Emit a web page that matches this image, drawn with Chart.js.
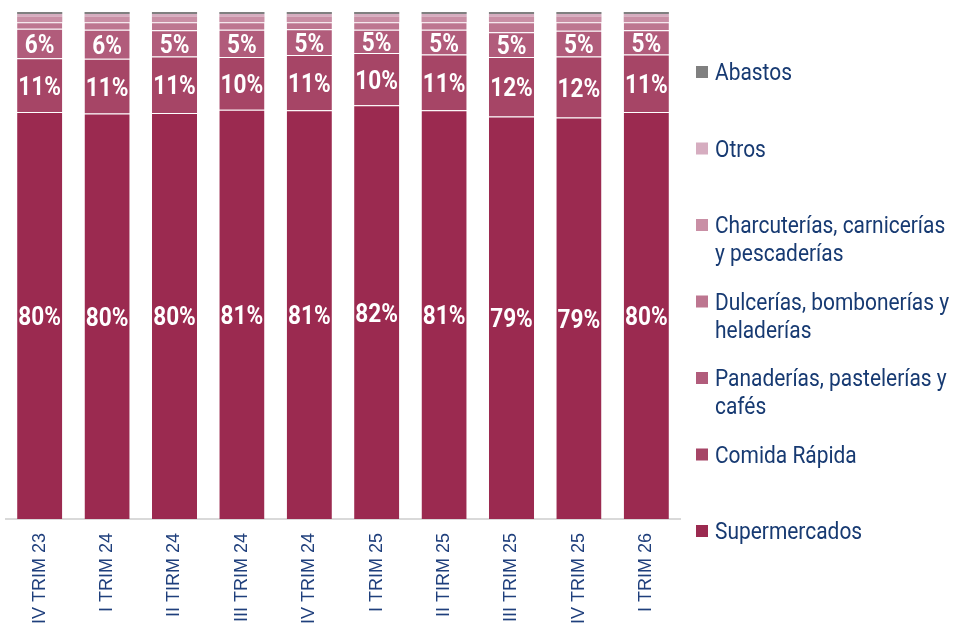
<!DOCTYPE html>
<html>
<head>
<meta charset="utf-8">
<script src="https://cdn.jsdelivr.net/npm/chart.js@4.4.1/dist/chart.umd.min.js"></script>
<style>
  html, body { margin: 0; padding: 0; background: #fff; overflow: hidden; }
  #wrap { width: 955px; height: 623px; }
</style>
</head>
<body>
<div id="wrap"><canvas id="chart" width="955" height="623"></canvas></div>
<script>
// Data (share of sales, %)
const quarters = ['IV TRIM 23', 'I TRIM 24', 'II TIRM 24', 'III TRIM 24', 'IV TRIM 24',
                  'I TRIM 25', 'II TIRM 25', 'III TRIM 25', 'IV TRIM 25', 'I TRIM 26'];

const supermercados = [80.3, 80.0, 80.1, 80.7, 80.6, 81.6, 80.6, 79.4, 79.2, 80.3];
const comidaRapida  = [10.6, 10.8, 11.1, 10.4, 10.9, 10.3, 11.0, 11.7, 12.0, 11.3];
const panaderias    = [5.8, 5.7, 5.2, 5.4, 5.1, 4.6, 4.9, 4.9, 5.1, 4.8];
const dulcerias     = [1.3, 1.5, 1.6, 1.5, 1.4, 1.5, 1.5, 2.0, 1.7, 1.6];
const charcuterias  = [1.1, 1.1, 1.1, 1.1, 1.1, 1.1, 1.1, 1.1, 1.1, 1.1];
const otros         = [0.5, 0.5, 0.5, 0.5, 0.5, 0.5, 0.5, 0.5, 0.5, 0.5];
const abastos       = [0.4, 0.4, 0.4, 0.4, 0.4, 0.4, 0.4, 0.4, 0.4, 0.4];

const seriesNames = ['Supermercados', 'Comida Rápida', 'Panaderías, pastelerías y cafés',
                     'Dulcerías, bombonerías y heladerías', 'Charcuterías, carnicerías y pescaderías',
                     'Otros', 'Abastos'];
// how the legend wraps each name
const legendLines = [
  ['Supermercados'],
  ['Comida Rápida'],
  ['Panaderías, pastelerías y', 'cafés'],
  ['Dulcerías, bombonerías y', 'heladerías'],
  ['Charcuterías, carnicerías', 'y pescaderías'],
  ['Otros'],
  ['Abastos']
];
const seriesData = [supermercados, comidaRapida, panaderias, dulcerias, charcuterias, otros, abastos];
const colors = ['#9b2a50', '#a64566', '#b15c7b', '#bd7690', '#c98fa5', '#d6adc0', '#808080'];

// white % labels on the three biggest segments
const pctLabels = {
  id: 'pctLabels',
  afterDatasetsDraw(chart) {
    const ctx = chart.ctx;
    ctx.save();
    ctx.fillStyle = '#ffffff';
    ctx.font = 'bold 26px Roboto';
    ctx.textAlign = 'center';
    ctx.textBaseline = 'alphabetic';
    [0, 1, 2].forEach(di => {
      const meta = chart.getDatasetMeta(di);
      meta.data.forEach((bar, i) => {
        const v = chart.data.datasets[di].data[i];
        const mid = (bar.y + bar.base) / 2;
        ctx.save();
        ctx.translate(bar.x, mid + 9.5);
        ctx.scale(0.87, 1);
        ctx.fillText(Math.round(v) + '%', 0, 0);
        ctx.restore();
      });
    });
    ctx.restore();
  }
};

// legend on the right, top item = last dataset
const sideLegend = {
  id: 'sideLegend',
  afterDraw(chart) {
    const ctx = chart.ctx;
    const ds = chart.data.datasets;
    ctx.save();
    ctx.font = '23px Roboto';
    ctx.textAlign = 'left';
    ctx.textBaseline = 'alphabetic';
    for (let k = 0; k < ds.length; k++) {
      const idx = ds.length - 1 - k;
      const y0 = 72 + k * 76.5;
      ctx.fillStyle = ds[idx].backgroundColor;
      ctx.fillRect(696, y0 - 6, 12, 12);
      ctx.fillStyle = '#173a72';
      legendLines[idx].forEach((t, j) => {
        ctx.save();
        ctx.translate(715, y0 + 8 + j * 28);
        ctx.scale(0.91, 1);
        ctx.fillText(t, 0, 0);
        ctx.restore();
      });
    }
    ctx.restore();
  }
};

new Chart(document.getElementById('chart'), {
  type: 'bar',
  data: {
    labels: quarters,
    datasets: seriesNames.map((name, i) => ({
      label: name,
      data: seriesData[i],
      backgroundColor: colors[i],
      borderColor: 'rgba(255, 255, 255, 0.3)',
      borderWidth: i < 4 ? { top: 1, left: 0, right: 0, bottom: 0 } : 0,
      borderSkipped: false,
      barPercentage: 0.67,
      categoryPercentage: 1
    }))
  },
  options: {
    responsive: false,
    animation: false,
    layout: { padding: { left: 6, top: 12, right: 275, bottom: 0 } },
    plugins: {
      legend: { display: false },
      tooltip: { enabled: false }
    },
    scales: {
      x: {
        stacked: true,
        grid: { display: false, drawTicks: false },
        border: { display: true, color: '#d9d9d9', width: 2 },
        ticks: {
          autoSkip: false,
          minRotation: 90,
          maxRotation: 90,
          padding: 14,
          color: '#1f3f7c',
          font: { family: 'Liberation Sans, Arial', size: 18 }
        },
        afterFit(scale) { scale.height = 104; }
      },
      y: {
        stacked: true,
        display: false,
        min: 0,
        max: 100
      }
    }
  },
  plugins: [pctLabels, sideLegend]
});
</script>
</body>
</html>
